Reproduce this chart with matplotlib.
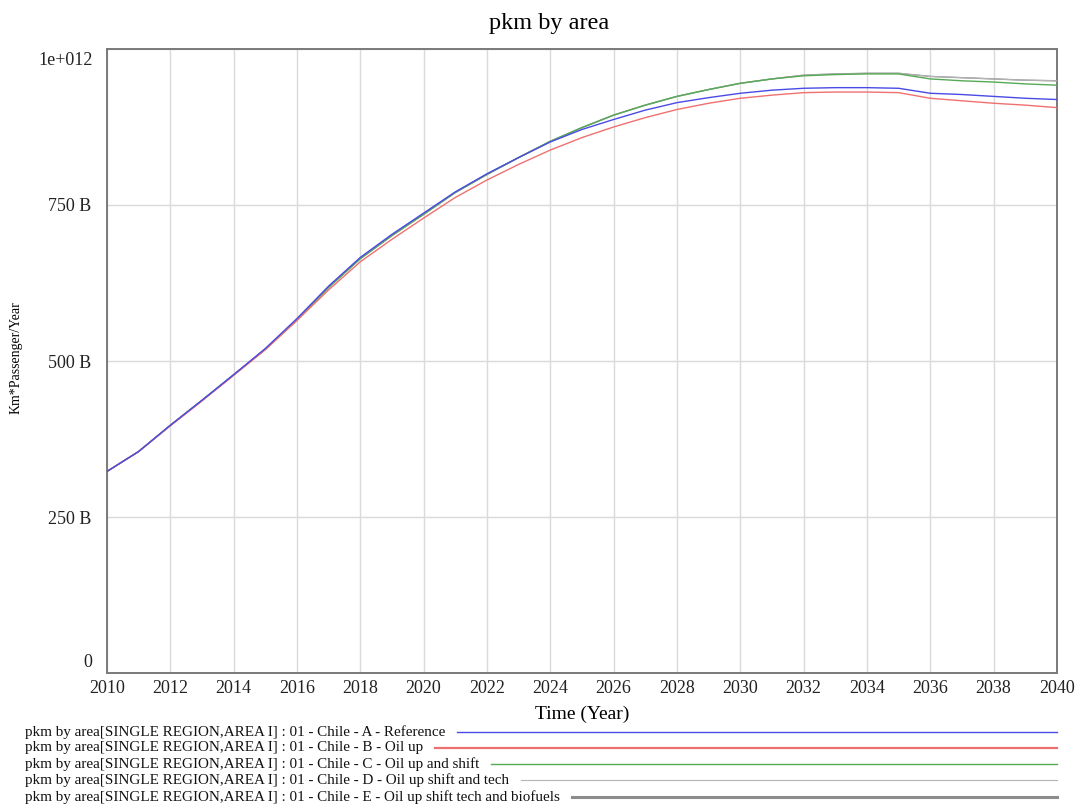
import matplotlib
matplotlib.use("Agg")
import matplotlib.pyplot as plt
from matplotlib.lines import Line2D

plt.rcParams["font.family"] = ["Liberation Serif", "DejaVu Serif"]

years = list(range(2010, 2041))

# pkm by area, billions of passenger-km per year
reference = [323, 355, 397, 437, 478, 520, 568, 620, 666, 703, 737, 771, 800, 826,
             851, 871, 887, 902, 914, 922, 929, 934, 937, 938, 938, 937, 929, 927,
             924, 921, 919]
oil_up = [323, 355, 396, 436, 477, 518, 565, 614, 659, 695, 729, 762, 790, 815,
          838, 858, 875, 890, 903, 913, 921, 926, 930, 931, 931, 930, 921, 917,
          913, 910, 906]
oil_shift = [323, 355, 397, 437, 478, 519, 566, 618, 664, 701, 735, 770, 799, 826,
             852, 874, 894, 910, 924, 935, 945, 952, 957, 959, 960, 960, 952, 949,
             947, 944, 942]
oil_shift_tech = [323, 355, 397, 437, 478, 519, 566, 618, 664, 701, 735, 770, 799, 826,
                  852, 874, 894, 910, 924, 935, 945, 952, 958, 960, 961, 961, 956, 954,
                  952, 950, 949]
oil_shift_tech_bio = [323, 355, 397, 437, 478, 519, 566, 618, 664, 701, 735, 770, 799, 826,
                      852, 874, 894, 910, 924, 935, 945, 952, 958, 960, 961, 961, 956, 954,
                      952, 950, 949]

prefix = "pkm by area[SINGLE REGION,AREA I] : 01 - Chile - "
runs = [
    ("A - Reference", reference, "#4a4ae6", 1.0),
    ("B - Oil up", oil_up, "#f07070", 1.0),
    ("C - Oil up and shift", oil_shift, "#55aa55", 1.0),
    ("D - Oil up shift and tech", oil_shift_tech, "#b4b4b4", 0.8),
    ("E - Oil up shift tech and biofuels", oil_shift_tech_bio, "#8c8c8c", 1.0),
]
legend_widths = [1.0, 1.6, 1.0, 0.8, 2.2]

fig = plt.figure(figsize=(10.76, 8.08), dpi=100)
W, H = fig.get_size_inches() * fig.dpi
ax = fig.add_axes([0.0994, 0.167, 0.8829, 0.7724])

# first run ends up on top
for i, (name, vals, color, lw) in enumerate(runs):
    ax.plot(years, [v * 1e9 for v in vals], color=color, lw=lw, zorder=10 - i)

ax.set_xlim(2010, 2040)
ax.set_ylim(0, 1e12)
ax.set_xticks(range(2010, 2041, 2))
ax.set_yticks([0, 250e9, 500e9, 750e9, 1e12])
ax.set_yticklabels(["", "250 B", "500 B", "750 B", ""])
ax.grid(True, color="#dadada", lw=1.0)
ax.tick_params(length=0, labelsize=13, colors="#222222")
ax.tick_params(axis="y", pad=11)
ax.tick_params(axis="x", pad=5)
for s in ax.spines.values():
    s.set_color("#7a7a7a")
    s.set_linewidth(1.4)

# end labels sit inside the axis range
ax.text(-0.015, 0.995, "1e+012", transform=ax.transAxes, ha="right", va="top",
        fontsize=13, color="#222222")
ax.text(-0.015, 0.004, "0", transform=ax.transAxes, ha="right", va="bottom",
        fontsize=13, color="#222222")

fig.text(549 / W, 1 - 23 / H, "pkm by area", fontsize=17.5, ha="center", va="center")
ax.set_xlabel("Time (Year)", fontsize=14, labelpad=6)
fig.text(16 / W, 1 - 358 / H, "Km*Passenger/Year", fontsize=10, rotation=90,
         ha="center", va="center")

# legend: label text followed by a line running to the right edge
fig.canvas.draw()
renderer = fig.canvas.get_renderer()
row_y = [732, 748, 764, 780, 797]
for (name, vals, color, lw), lwl, y in zip(runs, legend_widths, row_y):
    t = fig.text(25 / W, 1 - y / H, prefix + name, fontsize=10.9, va="center",
                 ha="left", color="#111111")
    bb = t.get_window_extent(renderer)
    x0 = (bb.x1 + 12) / W
    fig.add_artist(Line2D([x0, 1057 / W], [1 - y / H, 1 - y / H], color=color,
                          lw=lwl, transform=fig.transFigure))

fig.savefig("out.png", dpi=100)
